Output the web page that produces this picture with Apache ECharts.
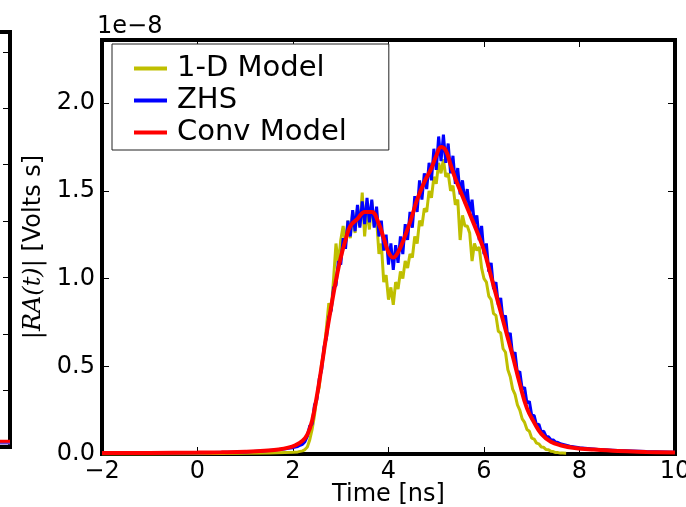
<!DOCTYPE html>
<html>
<head>
<meta charset="utf-8">
<script src="https://cdn.jsdelivr.net/npm/echarts@6/dist/echarts.min.js"></script>
<style>
  html, body { margin: 0; padding: 0; background: #ffffff; }
  #chart { width: 686px; height: 507px; }
</style>
</head>
<body>
<div id="chart"></div>
<script>
// Radio-pulse vector potential |RA(t)|, values in units of 1e-8 V·s, time in ns.

// Convolution model (smooth curve)
const convTime = [-2, -1, 0, 0.5, 1.0, 1.4, 1.7, 1.9, 2.05, 2.2,
  2.3, 2.4, 2.5, 2.6, 2.7, 2.8, 2.9, 3.0, 3.1, 3.2,
  3.35, 3.5, 3.65, 3.8, 3.9, 4.0, 4.1, 4.2, 4.3, 4.45,
  4.6, 4.75, 4.9, 5.0, 5.1, 5.2, 5.3, 5.4, 5.55, 5.7,
  5.85, 6.0, 6.15, 6.3, 6.45, 6.6, 6.75, 6.9, 7.05, 7.2,
  7.4, 7.6, 7.9, 8.3, 8.8, 9.4, 10];
const convValue = [0.005, 0.006, 0.008, 0.01, 0.013, 0.018, 0.026, 0.036, 0.05, 0.075,
  0.11, 0.19, 0.33, 0.50, 0.68, 0.84, 0.99, 1.12, 1.22, 1.30,
  1.34, 1.38, 1.38, 1.31, 1.23, 1.15, 1.12, 1.15, 1.21, 1.32,
  1.45, 1.55, 1.63, 1.70, 1.75, 1.73, 1.65, 1.57, 1.47, 1.37,
  1.27, 1.16, 1.01, 0.86, 0.71, 0.56, 0.40, 0.26, 0.18, 0.115,
  0.07, 0.05, 0.034, 0.025, 0.017, 0.012, 0.008];

// ZHS simulation (noisy)
const zhsTime = [-2, -1, 0, 1.0, 1.5,
  1.80, 1.85, 1.90, 1.95, 2.00, 2.05, 2.10, 2.15, 2.20, 2.25,
  2.30, 2.35, 2.40, 2.45, 2.50, 2.55, 2.60, 2.65, 2.70, 2.75,
  2.80, 2.85, 2.90, 2.95, 3.00, 3.05, 3.10, 3.15, 3.20, 3.25,
  3.30, 3.35, 3.40, 3.45, 3.50, 3.55, 3.60, 3.65, 3.70, 3.75,
  3.80, 3.85, 3.90, 3.95, 4.00, 4.05, 4.10, 4.15, 4.20, 4.25,
  4.30, 4.35, 4.40, 4.45, 4.50, 4.55, 4.60, 4.65, 4.70, 4.75,
  4.80, 4.85, 4.90, 4.95, 5.00, 5.05, 5.10, 5.15, 5.20, 5.25,
  5.30, 5.35, 5.40, 5.45, 5.50, 5.55, 5.60, 5.65, 5.70, 5.75,
  5.80, 5.85, 5.90, 5.95, 6.00, 6.05, 6.10, 6.15, 6.20, 6.25,
  6.30, 6.35, 6.40, 6.45, 6.50, 6.55, 6.60, 6.65, 6.70, 6.75,
  6.80, 6.85, 6.90, 6.95, 7.00, 7.05, 7.10, 7.15, 7.20, 7.25,
  7.30, 7.35, 7.40, 7.45, 7.50, 7.55, 7.60,
  7.8, 8.0, 8.4, 8.8, 9.4, 10];
const zhsValue = [0.004, 0.005, 0.007, 0.012, 0.02,
  0.028, 0.03, 0.032, 0.034, 0.036, 0.04, 0.043, 0.05, 0.055, 0.07,
  0.10, 0.16, 0.17, 0.28, 0.31, 0.43, 0.48, 0.61, 0.66, 0.78,
  0.82, 0.95, 0.96, 1.10, 1.08, 1.23, 1.17, 1.33, 1.24, 1.39,
  1.27, 1.42, 1.29, 1.44, 1.31, 1.46, 1.32, 1.45, 1.29, 1.41,
  1.24, 1.33, 1.16, 1.25, 1.08, 1.20, 1.05, 1.19, 1.09, 1.24,
  1.14, 1.31, 1.22, 1.38, 1.29, 1.47, 1.38, 1.56, 1.45, 1.60,
  1.51, 1.66, 1.56, 1.74, 1.62, 1.81, 1.67, 1.82, 1.66, 1.77,
  1.60, 1.70, 1.54, 1.63, 1.48, 1.56, 1.43, 1.51, 1.37, 1.45,
  1.31, 1.36, 1.22, 1.30, 1.14, 1.20, 1.04, 1.09, 0.94, 0.98,
  0.85, 0.89, 0.76, 0.79, 0.66, 0.69, 0.56, 0.58, 0.46, 0.47,
  0.37, 0.38, 0.29, 0.30, 0.22, 0.22, 0.165, 0.17, 0.125, 0.13,
  0.10, 0.098, 0.082, 0.08, 0.068, 0.066, 0.058,
  0.045, 0.036, 0.026, 0.02, 0.014, 0.01];

// 1-D model (noisy, ends at 7.72 ns)
const oneDTime = [-2, -1, 0, 1.0, 1.5, 2.0, 2.1, 2.2,
  2.25, 2.30, 2.35, 2.40, 2.45, 2.50, 2.55, 2.60, 2.65, 2.70,
  2.75, 2.80, 2.85, 2.90, 2.95, 3.00, 3.05, 3.10, 3.15, 3.20,
  3.25, 3.30, 3.35, 3.40, 3.45, 3.50, 3.55, 3.60, 3.65, 3.70,
  3.75, 3.80, 3.85, 3.90, 3.95, 4.00, 4.05, 4.10, 4.15, 4.20,
  4.25, 4.30, 4.35, 4.40, 4.45, 4.50, 4.55, 4.60, 4.65, 4.70,
  4.75, 4.80, 4.85, 4.90, 4.95, 5.00, 5.05, 5.10, 5.15, 5.20,
  5.25, 5.30, 5.35, 5.40, 5.45, 5.50, 5.55, 5.60, 5.65, 5.70,
  5.75, 5.80, 5.85, 5.90, 5.95, 6.00, 6.05, 6.10, 6.15, 6.20,
  6.25, 6.30, 6.35, 6.40, 6.45, 6.50, 6.55, 6.60, 6.65, 6.70,
  6.75, 6.80, 6.85, 6.90, 6.95, 7.00, 7.05, 7.10, 7.15, 7.20,
  7.25, 7.30, 7.35, 7.40, 7.45, 7.50, 7.55, 7.60, 7.65,
  7.72];
const oneDValue = [0.0, 0.0, 0.002, 0.004, 0.006, 0.01, 0.012, 0.018,
  0.025, 0.04, 0.08, 0.14, 0.22, 0.33, 0.38, 0.52, 0.58, 0.72,
  0.86, 0.82, 1.00, 1.20, 1.08, 1.22, 1.30, 1.20, 1.33, 1.23,
  1.38, 1.26, 1.40, 1.30, 1.49, 1.24, 1.40, 1.28, 1.44, 1.30,
  1.34, 1.14, 1.20, 0.98, 1.02, 0.88, 0.95, 0.85, 0.98, 0.94,
  1.04, 1.00, 1.10, 1.06, 1.14, 1.12, 1.24, 1.20, 1.33, 1.30,
  1.40, 1.38, 1.50, 1.46, 1.58, 1.54, 1.66, 1.60, 1.68, 1.58,
  1.60, 1.50, 1.53, 1.42, 1.45, 1.22, 1.36, 1.30, 1.30, 1.26,
  1.10, 1.20, 1.16, 1.18, 1.06, 1.00, 0.98, 0.90, 0.88, 0.80,
  0.79, 0.70, 0.69, 0.60, 0.58, 0.48, 0.44, 0.37, 0.34, 0.28,
  0.25, 0.20, 0.18, 0.14, 0.13, 0.09, 0.085, 0.062, 0.058, 0.04,
  0.038, 0.025, 0.024, 0.015, 0.014, 0.008, 0.008, 0.005, 0.005,
  0.004];

// Neighbouring panel (only its right edge is in view)
const sideTime = [0, 1];
const sideConvValue = [0.1, 0.1];
const sideZhsValue = [0.07, 0.07];

const seriesNames = ['1-D Model', 'ZHS', 'Conv Model'];
const seriesColors = ['#bfbf00', '#0000ff', '#ff0000'];
const offsetText = '1e\u22128';
const xLabel = 'Time [ns]';

function pairs(ts, vs) {
  const n = Math.min(ts.length, vs.length);
  const out = [];
  for (let i = 0; i < n; i++) out.push([ts[i], vs[i]]);
  return out;
}

const FONT = 'DejaVu Sans';
const tickStyle = { inside: true, length: 7, lineStyle: { color: '#000', width: 1 } };
const hiddenLine = { show: false, onZero: false };

const chart = echarts.init(document.getElementById('chart'), null, { renderer: 'canvas' });
chart.setOption({
  animation: false,
  backgroundColor: '#ffffff',
  title: {
    text: offsetText, left: 97, top: 15, padding: 0,
    textStyle: { fontFamily: FONT, fontSize: 24, fontWeight: 'normal', color: '#000' }
  },
  legend: {
    data: seriesNames,
    orient: 'vertical', left: 112, top: 44,
    backgroundColor: '#ffffff', borderColor: '#222', borderWidth: 1, borderRadius: 0,
    padding: [10, 42, 3, 22],
    icon: 'rect', itemWidth: 33, itemHeight: 4, itemGap: 3,
    selectedMode: false,
    textStyle: { fontFamily: FONT, fontSize: 29, color: '#000', lineHeight: 29, padding: [0, 0, 0, 5] }
  },
  grid: [
    { left: 102, right: 11, top: 40, bottom: 53, show: true, borderColor: '#000', borderWidth: 4,
      backgroundColor: 'transparent', containLabel: false, outerBoundsMode: 'none' },
    { left: -200, width: 210, top: 32, height: 415, show: true, borderColor: '#000', borderWidth: 4,
      backgroundColor: 'transparent', containLabel: false, outerBoundsMode: 'none' }
  ],
  xAxis: [
    {
      gridIndex: 0, type: 'value', min: -2, max: 10, interval: 2, position: 'bottom',
      axisLine: hiddenLine, axisTick: tickStyle, splitLine: { show: false },
      axisLabel: {
        margin: 6, fontFamily: FONT, fontSize: 24, color: '#000',
        formatter: v => (v < 0 ? '\u2212' + (-v) : String(v))
      },
      name: xLabel, nameLocation: 'middle', nameGap: 29, nameMoveOverlap: false,
      nameTextStyle: { fontFamily: FONT, fontSize: 24, color: '#000' }
    },
    {
      gridIndex: 0, type: 'value', min: -2, max: 10, interval: 2, position: 'top',
      axisLine: hiddenLine, axisTick: tickStyle, splitLine: { show: false },
      axisLabel: { show: false }
    },
    { gridIndex: 1, type: 'value', min: 0, max: 1, show: false, axisLine: hiddenLine }
  ],
  yAxis: [
    {
      gridIndex: 0, type: 'value', min: 0, max: 2.36, interval: 0.5, position: 'left',
      axisLine: hiddenLine, axisTick: tickStyle, splitLine: { show: false },
      axisLabel: {
        margin: 7, fontFamily: FONT, fontSize: 24, color: '#000', showMaxLabel: false,
        formatter: v => (Math.abs(v / 0.5 - Math.round(v / 0.5)) < 1e-6 ? v.toFixed(1) : '')
      },
      name: '{m||RA(t)|} [Volts s]', nameLocation: 'middle', nameRotate: 90, nameGap: 56,
      nameMoveOverlap: false,
      nameTextStyle: {
        fontFamily: FONT, fontSize: 24, color: '#000',
        rich: { m: { fontFamily: 'DejaVu Serif', fontStyle: 'italic', fontSize: 24, color: '#000' } }
      }
    },
    {
      gridIndex: 0, type: 'value', min: 0, max: 2.36, interval: 0.5, position: 'right',
      axisLine: hiddenLine, axisTick: tickStyle, splitLine: { show: false },
      axisLabel: { show: false }
    },
    {
      gridIndex: 1, type: 'value', min: 0, max: 7.35, interval: 1, position: 'right',
      axisLine: hiddenLine, axisTick: tickStyle, splitLine: { show: false },
      axisLabel: { show: false }
    }
  ],
  series: [
    {
      name: seriesNames[0], type: 'line', xAxisIndex: 0, yAxisIndex: 0,
      data: pairs(oneDTime, oneDValue), symbol: 'none', z: 2,
      itemStyle: { color: seriesColors[0] }, lineStyle: { color: seriesColors[0], width: 3 }
    },
    {
      name: seriesNames[1], type: 'line', xAxisIndex: 0, yAxisIndex: 0,
      data: pairs(zhsTime, zhsValue), symbol: 'none', z: 3,
      itemStyle: { color: seriesColors[1] }, lineStyle: { color: seriesColors[1], width: 3 }
    },
    {
      name: seriesNames[2], type: 'line', xAxisIndex: 0, yAxisIndex: 0,
      data: pairs(convTime, convValue), symbol: 'none', smooth: 0.4, z: 4,
      itemStyle: { color: seriesColors[2] }, lineStyle: { color: seriesColors[2], width: 4 }
    },
    {
      name: 'side ZHS', type: 'line', xAxisIndex: 2, yAxisIndex: 2,
      data: pairs(sideTime, sideZhsValue), symbol: 'none', z: 3,
      lineStyle: { color: '#6a3fd0', width: 3 }
    },
    {
      name: 'side Conv', type: 'line', xAxisIndex: 2, yAxisIndex: 2,
      data: pairs(sideTime, sideConvValue), symbol: 'none', z: 4,
      lineStyle: { color: '#ff0000', width: 3 }
    }
  ]
});
</script>
</body>
</html>
